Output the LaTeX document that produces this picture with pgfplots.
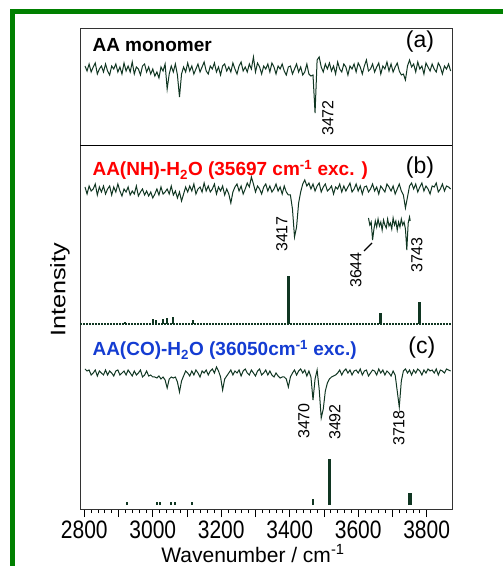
\documentclass[border=0pt]{standalone}
\usepackage{fontspec}
\setmainfont{Liberation Sans}
\usepackage{pgfplots}
\usepackage{pgfplotstable}
\pgfplotsset{compat=1.18}
\definecolor{trace}{RGB}{16,54,34}
\definecolor{frame}{RGB}{0,128,0}
\definecolor{ttlred}{RGB}{255,0,0}
\definecolor{ttlblue}{RGB}{20,60,210}
\newcommand\ff[1]{\fontsize{#1}{#1}\selectfont}

% spectra (a), (b), (c) on a shared vertical scale (one unit = one pixel)
\pgfplotstableread{
x a b c
2802 443 322 140
2808 438 315 138
2814 445 323 139
2820 437 318 134
2826 442 320 136
2832 446 325 139
2838 435 314 133
2844 440 322 138
2850 443 317 136
2856 437 323 134
2862 445 315 139
2868 438 320 134
2874 434 323 138
2880 443 314 136
2886 440 322 133
2892 445 317 138
2898 437 325 139
2904 442 318 134
2910 435 313 136
2916 446 320 138
2922 438 317 134
2928 443 322 139
2934 437 314 136
2940 447 318 133
2946 435 315 138
2952 442 323 134
2958 440 313 136
2964 434 317 139
2970 443 320 132
2976 445 314 134
2982 437 318 138
2988 442 313 133
2994 435 317 134
3000 440 311 132
3006 433 315 132
3012 437 320 131
3018 431 314 133
3024 442 322 130
3030 438 315 132
3036 445 317 129
3042 420 320 121
3048 435 315 130
3054 443 323 132
3060 437 314 131
3066 445 318 132
3072 434 311 127
3078 412 317 117
3084 435 308 128
3090 442 315 133
3096 437 322 138
3102 446 317 136
3108 438 323 133
3114 443 318 138
3120 435 325 134
3126 440 315 139
3132 445 320 136
3138 437 322 132
3144 442 317 138
3150 447 326 136
3156 438 318 139
3162 435 323 134
3168 443 317 138
3174 440 320 140
3180 446 325 136
3186 437 315 142
3192 442 322 138
3198 434 318 132
3204 443 323 119
3210 445 314 130
3216 438 320 133
3222 442 315 136
3228 437 306 139
3234 446 317 134
3240 440 322 138
3246 435 325 136
3252 443 318 139
3258 447 323 133
3264 438 315 138
3270 442 320 140
3276 437 326 136
3282 445 322 134
3288 440 332 139
3294 452 325 136
3300 437 317 133
3306 446 323 138
3312 442 320 140
3318 435 315 134
3324 443 322 136
3330 440 325 139
3336 445 318 134
3342 437 323 138
3348 446 317 134
3354 442 320 132
3360 435 325 136
3366 443 318 133
3372 440 322 131
3378 445 315 132
3384 438 323 132
3390 434 317 130
3396 442 314 122
3402 443 314 132
3408 435 300 136
3414 440 272 139
3420 445 282 134
3426 437 306 138
3432 442 317 140
3438 434 325 136
3444 437 329 139
3450 445 323 133
3456 435 326 138
3462 433 320 132
3468 434 325 109
3474 396 318 130
3480 449 323 139
3486 452 326 120
3492 442 317 91
3498 437 322 100
3504 445 325 118
3510 440 318 126
3516 446 320 130
3522 438 323 132
3528 443 315 133
3534 435 322 134
3540 447 320 136
3546 440 325 139
3552 437 317 134
3558 445 323 138
3564 442 318 140
3570 434 322 136
3576 443 326 139
3582 440 317 134
3588 445 320 138
3594 437 325 139
3600 446 318 136
3606 442 323 140
3612 435 315 134
3618 443 322 138
3624 449 323 139
3630 438 317 133
3636 440 320 136
3642 445 325 139
3648 437 318 138
3654 442 322 134
3660 446 315 140
3666 435 323 136
3672 443 320 139
3678 440 317 134
3684 447 325 138
3690 438 322 136
3696 445 318 133
3702 437 323 138
3708 442 315 134
3714 446 320 118
3720 438 325 102
3726 434 318 128
3732 435 314 138
3738 429 301 140
3744 443 312 136
3750 449 323 139
3756 442 326 134
3762 445 320 139
3768 437 325 136
3774 447 317 140
3780 440 322 138
3786 443 326 134
3792 435 318 139
3798 446 323 136
3804 442 320 140
3810 438 315 138
3816 445 323 139
3822 440 322 136
3828 437 326 140
3834 446 317 134
3840 442 320 139
3846 435 325 138
3852 443 318 136
3858 440 323 140
3864 445 322 139
3870 438 320 138
}\spec

% enlarged piece of trace (b)
\pgfplotstableread{
x y
3630 291
3634 284
3638 287
3642 269
3646 280
3650 288
3654 282
3658 290
3662 283
3666 287
3670 279
3674 289
3678 284
3682 281
3686 290
3690 283
3694 286
3698 280
3702 291
3706 284
3710 288
3714 279
3718 287
3722 282
3726 290
3730 284
3734 287
3738 280
3742 259
3746 286
3750 292
3752 288
}\inset

\begin{document}
\begin{tikzpicture}[x=1pt,y=1pt]
\path[use as bounding box] (0,0) rectangle (503,566);
\draw[frame,line width=5pt] (12.5,0) -- (12.5,554) -- (503,554);
\begin{axis}[
  at={(80pt,57pt)},anchor=south west,scale only axis,
  width=372pt,height=481pt,
  xmin=2787.4,xmax=3874,ymin=0,ymax=481,
  axis line style={black!80,line width=0.9pt},
  xtick={2800,2900,...,3800},
  xticklabels={2800,,3000,,3200,,3400,,3600,,3800},
  minor x tick num=4,
  xtick pos=bottom,tick align=outside,
  major tick length=8pt,minor tick length=4pt,
  tick style={black,line width=0.8pt},
  ytick=\empty,
  tick label style={font=\ff{21},yscale=1.2},
  /pgf/number format/assume math mode=true,
  clip=false]
% separator between (a) and (b)
\addplot[black,line width=1pt] coordinates {(2787.4,363) (3874,363)};
% traces
\addplot[trace,line width=1pt] table[x=x,y=a]{\spec};
\addplot[trace,line width=1pt] table[x=x,y=b]{\spec};
\addplot[trace,line width=1pt] table[x=x,y=y]{\inset};
\addplot[trace,line width=1pt] table[x=x,y=c]{\spec};
% stick spectrum (b)
\addplot[trace,line width=1.3pt,dash pattern=on 2pt off 1pt] coordinates {(2787.4,185) (3874,185)};
\addplot[trace,line width=2pt,unbounded coords=jump] coordinates {
(2920,185)(2920,187)(2920,nan)
(3001,185)(3001,190)(3001,nan)
(3010,185)(3010,189)(3010,nan)
(3030,185)(3030,190)(3030,nan)
(3041,185)(3041,191)(3041,nan)
(3060,185)(3060,192)(3060,nan)
(3117,185)(3117,189)};
\addplot[trace,line width=3pt,unbounded coords=jump] coordinates {
(3397,185)(3397,233)(3397,nan)
(3665,185)(3665,196)(3665,nan)
(3780,185)(3780,207)};
% stick spectrum (c)
\addplot[trace,line width=2pt,unbounded coords=jump] coordinates {
(2925,4)(2925,7)(2925,nan)
(3012,4)(3012,7)(3012,nan)
(3021,4)(3021,7)(3021,nan)
(3053,4)(3053,7)(3053,nan)
(3066,4)(3066,7)(3066,nan)
(3115,4)(3115,7)(3115,nan)
(3468,4)(3468,10)};
\addplot[trace,line width=3.5pt,unbounded coords=jump] coordinates {
(3516,4)(3516,50)(3516,nan)
(3752,4)(3752,16)};
% titles
\node[anchor=west] at (axis cs:2813.7,464) {\ff{19}\bfseries AA monomer};
\node at (axis cs:3780.5,467) {\ff{23}(a)};
\node[anchor=west,text=ttlred] at (axis cs:2813.7,339) {\ff{19}\bfseries AA(NH)-H\textsubscript{2}O (35697 cm\textsuperscript{-1} exc. )};
\node at (axis cs:3780.5,341) {\ff{23}(b)};
\node[anchor=west,text=ttlblue] at (axis cs:2813.7,159) {\ff{19}\bfseries AA(CO)-H\textsubscript{2}O (36050cm\textsuperscript{-1} exc.)};
\node at (axis cs:3786,161) {\ff{23}(c)};
% peak labels
\node[rotate=90] at (axis cs:3511.7,391) {\ff{16}3472};
\node[rotate=90] at (axis cs:3377.4,275) {\ff{16}3417};
\node[rotate=90] at (axis cs:3593.5,239) {\ff{16}3644};
\node[rotate=90] at (axis cs:3771.6,254) {\ff{16}3743};
\draw[black,line width=1.2pt] (axis cs:3617,258) -- (axis cs:3640.5,266);
\node[rotate=90] at (axis cs:3441.6,88) {\ff{16}3470};
\node[rotate=90] at (axis cs:3532.2,87) {\ff{16}3492};
\node[rotate=90] at (axis cs:3719.1,81) {\ff{16}3718};
\end{axis}
\node[yscale=1.2,rotate=90] at (60,276) {\ff{21}Intensity};
\node[anchor=base] at (253,4) {\ff{21}Wavenumber / cm\textsuperscript{-1}};
\end{tikzpicture}
\end{document}
